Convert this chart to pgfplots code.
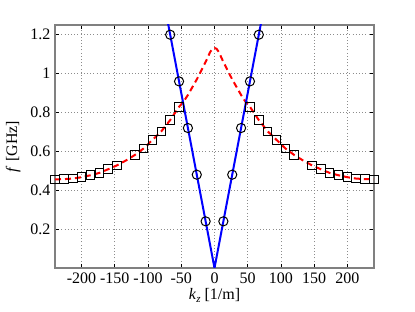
\documentclass[border=0pt]{standalone}
\usepackage{fontspec}
\setmainfont{Liberation Serif}
\usepackage{pgfplots}
\pgfplotsset{compat=1.18}
\begin{document}
\fontsize{16}{18}\selectfont
\begin{tikzpicture}
\path[use as bounding box] (-55pt,-44pt) rectangle (360pt,268pt);
\begin{axis}[
  at={(0pt,0pt)}, anchor=south west,
  scale only axis, width=319pt, height=243pt,
  xmin=-240, xmax=240, ymin=0, ymax=1.25,
  xtick={-200,-150,-100,-50,0,50,100,150,200},
  ytick={0.2,0.4,0.6,0.8,1,1.2},
  tick align=inside,
  /pgf/number format/assume math mode=true,
  tick label style={font=\fontsize{16}{18}\selectfont},
  label style={font=\fontsize{16}{18}\selectfont},
  xticklabel style={yshift=1pt},
  yticklabel style={xshift=1pt},
  grid=major,
  major grid style={gray!90, dash pattern=on 1pt off 2.2pt, line width=0.7pt},
  axis line style={gray, line width=1.3pt},
  major tick length=4pt,
  every tick/.style={black, line width=0.8pt},
  xlabel={\textit{k}\raisebox{-0.45ex}{\fontsize{11}{12}\selectfont\textit{z}} [1/m]},
  ylabel={\textit{f} [GHz]},
  xlabel style={yshift=6pt},
  ylabel style={yshift=-1pt},
]
% red dashed curve
\addplot[red, line width=2pt, dash pattern=on 6pt off 4pt] coordinates {
(-240,0.456)(-226.67,0.457)(-213.33,0.460)(-200,0.467)(-186.67,0.477)(-173.33,0.489)(-160,0.508)(-146.67,0.528)(-133.33,0.553)(-120,0.581)(-106.67,0.615)(-93.33,0.659)(-80,0.703)(-66.67,0.761)(-53.33,0.829)(-46.67,0.855)(-40,0.89)(-33.33,0.93)(-26.67,0.97)(-20,1.015)(-13.33,1.06)(-10,1.085)(-6.67,1.11)(-3.33,1.127)(0,1.132)(3.33,1.127)(6.67,1.11)(10,1.085)(13.33,1.06)(20,1.015)(26.67,0.97)(33.33,0.93)(40,0.89)(46.67,0.855)(53.33,0.829)(66.67,0.761)(80,0.703)(93.33,0.659)(106.67,0.615)(120,0.581)(133.33,0.553)(146.67,0.528)(160,0.508)(173.33,0.489)(186.67,0.477)(200,0.467)(213.33,0.460)(226.67,0.457)(240,0.456)
};
% squares
\addplot[only marks, mark=square, mark size=4.3pt, black, line width=1pt] coordinates {
(-240,0.456)(-226.67,0.457)(-213.33,0.460)(-200,0.467)(-186.67,0.477)(-173.33,0.489)(-160,0.508)(-146.67,0.528)(-120,0.581)(-106.67,0.615)(-93.33,0.659)(-80,0.703)(-66.67,0.761)(-53.33,0.829)
(53.33,0.829)(66.67,0.761)(80,0.703)(93.33,0.659)(106.67,0.615)(120,0.581)(146.67,0.528)(160,0.508)(173.33,0.489)(186.67,0.477)(200,0.467)(213.33,0.460)(226.67,0.457)(240,0.456)
};
% blue line
\addplot[blue, line width=2pt] coordinates {(-70,1.26)(0,0)(70,1.26)};
% circles
\addplot[only marks, mark=o, mark size=4.6pt, black, line width=1pt] coordinates {
(-66.67,1.2)(-53.33,0.96)(-40,0.72)(-26.67,0.48)(-13.33,0.24)(13.33,0.24)(26.67,0.48)(40,0.72)(53.33,0.96)(66.67,1.2)
};
\end{axis}
\end{tikzpicture}
\end{document}
